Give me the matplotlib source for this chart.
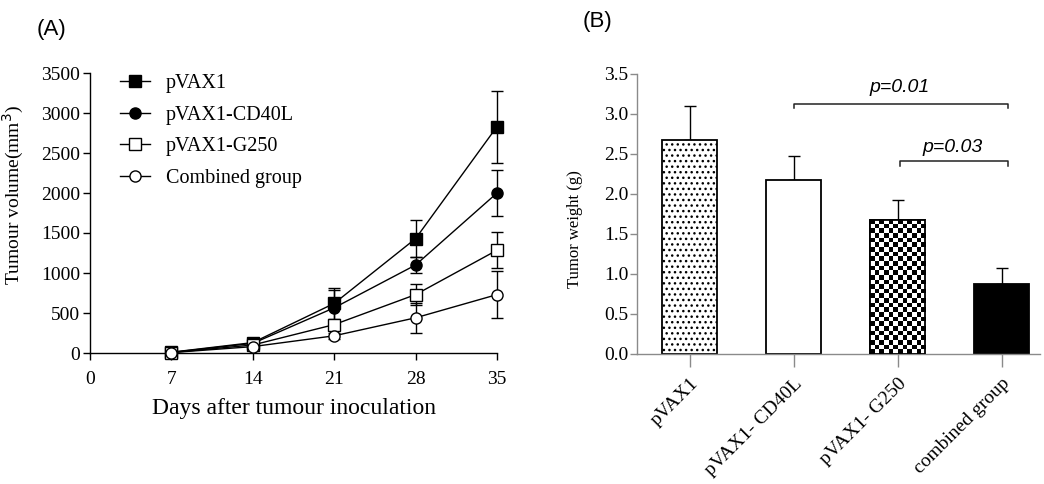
import numpy as np
import matplotlib
matplotlib.use("Agg")
import matplotlib.pyplot as plt
from matplotlib.patches import Rectangle

# ---- data ----
days = [7, 14, 21, 28, 35]
series_names = ["pVAX1", "pVAX1-CD40L", "pVAX1-G250", "Combined group"]
vol_pvax1 = [10, 130, 620, 1430, 2830]
vol_cd40l = [8, 120, 565, 1100, 2000]
vol_g250 = [6, 100, 355, 730, 1285]
vol_comb = [5, 80, 215, 440, 730]
err_pvax1 = [0, 20, 190, 235, 450]
err_cd40l = [0, 20, 225, 105, 290]
err_g250 = [0, 15, 60, 135, 225]
err_comb = [0, 10, 35, 190, 290]

bar_labels = ["pVAX1", "pVAX1- CD40L", "pVAX1- G250", "combined group"]
weights = [2.68, 2.18, 1.68, 0.88]
weight_err = [0.42, 0.30, 0.25, 0.20]
p_texts = ["p=0.01", "p=0.03"]

serif = "Liberation Serif"
sans = "Liberation Sans"

fig = plt.figure(figsize=(10.44, 4.84), dpi=100)

# ---------------- Panel A ----------------
axA = fig.add_axes([90/1044, 1-353/484, (497-90)/1044, (353-73)/484])
styles = [
    dict(marker="s", mfc="black"),
    dict(marker="o", mfc="black"),
    dict(marker="s", mfc="white"),
    dict(marker="o", mfc="white"),
]
vals = [vol_pvax1, vol_cd40l, vol_g250, vol_comb]
errs = [err_pvax1, err_cd40l, err_g250, err_comb]
for name, v, e, st in zip(series_names, vals, errs, styles):
    axA.errorbar(days, v, yerr=e, fmt="none", ecolor="black", capsize=4.5, capthick=1.0,
                 elinewidth=1.0, clip_on=False, zorder=2)
    axA.plot(days, v, color="black", lw=1.0, marker=st["marker"], mfc=st["mfc"], mec="black",
             mew=1.0, ms=8, label=name, clip_on=False, zorder=3)
axA.set_xlim(0, 35)
axA.set_ylim(0, 3500)
axA.set_xticks([0, 7, 14, 21, 28, 35])
axA.set_yticks(range(0, 3501, 500))
for s in ["top", "right"]:
    axA.spines[s].set_visible(False)
for s in ["left", "bottom"]:
    axA.spines[s].set_linewidth(1.0)
axA.tick_params(direction="out", length=5, width=1.0, labelsize=14)
axA.tick_params(axis="x", pad=8)
axA.tick_params(axis="y", pad=2)
for lab in axA.get_xticklabels() + axA.get_yticklabels():
    lab.set_fontfamily(serif)
axA.set_xlabel("Days after tumour inoculation", fontsize=17, fontfamily=serif, labelpad=7)
axA.set_ylabel("Tumour volume(mm$^3$)", fontsize=14, fontfamily=serif)
axA.yaxis.set_label_coords(-0.158, 0.564)
leg = axA.legend(loc="upper left", bbox_to_anchor=(0.053, 1.025), frameon=False,
                 prop=dict(family=serif, size=14.5), handlelength=1.5, handletextpad=0.8,
                 labelspacing=0.62, borderaxespad=0)
fig.text(52/1044, 1-30/484, "(A)", fontsize=16, fontfamily=sans, ha="center", va="center")

# ---------------- Panel B ----------------
axB = fig.add_axes([637/1044, 1-354/484, (1040-637)/1044, (354-74)/484])
x = np.arange(len(bar_labels))
grey = "#8a8a8a"
bars = axB.bar(x, weights, width=0.53, color="white", edgecolor="black", linewidth=1.3, zorder=2)
bars[0].set_hatch("...")
bars[3].set_facecolor("black")
axB.errorbar(x, weights, yerr=[np.zeros(len(x)), weight_err], fmt="none", ecolor="black",
             elinewidth=1.0, capsize=4, capthick=1.0, zorder=1)
axB.set_xlim(-0.51, 3.37)
axB.set_ylim(0, 3.5)
axB.set_yticks(np.arange(0, 3.51, 0.5))
axB.set_yticklabels([f"{t:.1f}" for t in np.arange(0, 3.51, 0.5)])
axB.set_xticks(x)
axB.set_xticklabels(bar_labels, rotation=45, ha="right", rotation_mode="anchor")
for s in ["top", "right"]:
    axB.spines[s].set_visible(False)
for s in ["left", "bottom"]:
    axB.spines[s].set_color(grey)
    axB.spines[s].set_linewidth(1.0)
axB.tick_params(axis="y", direction="out", length=5, width=1.0, color=grey, labelsize=14, pad=1)
axB.tick_params(axis="x", direction="out", length=9, width=1.0, color=grey, labelsize=14, pad=6)
for lab in axB.get_xticklabels() + axB.get_yticklabels():
    lab.set_fontfamily(serif)
axB.set_ylabel("Tumor weight (g)", fontsize=12, fontfamily=serif)
axB.yaxis.set_label_coords(-0.134, 0.446)

# checkerboard fill for bar 3
b = bars[2]
bx, by, bw, bh = b.get_x(), b.get_y(), b.get_width(), b.get_height()
ncols, nrows = 12, 29
checker = (np.add.outer(np.arange(nrows), np.arange(ncols)) % 2).astype(float)
im = axB.imshow(checker, cmap="gray", extent=[bx, bx + bw, by, by + bh], aspect="auto",
                interpolation="nearest", zorder=2.5, vmin=0, vmax=1)
im.set_clip_path(b)
axB.add_patch(Rectangle((bx, by), bw, bh, fill=False, edgecolor="black", linewidth=1.3, zorder=3))
axB.set_aspect("auto")

# significance brackets
def bracket(x1, x2, y, drop, text, tx, ty):
    axB.plot([x1, x1, x2, x2], [y - drop, y, y, y - drop], color="#222222", lw=1.1,
             clip_on=False, zorder=4)
    axB.text(tx, ty, text, fontsize=14, fontstyle="italic", fontfamily=sans,
             ha="center", va="center")

bracket(x[1], x[3] + 0.06, 3.13, 0.06, p_texts[0], 2.02, 3.33)
bracket(x[2] + 0.02, x[3] + 0.06, 2.41, 0.06, p_texts[1], 2.53, 2.58)

fig.text(597/1044, 1-22/484, "(B)", fontsize=16, fontfamily=sans, ha="center", va="center")

fig.savefig("out.png", dpi=100)
